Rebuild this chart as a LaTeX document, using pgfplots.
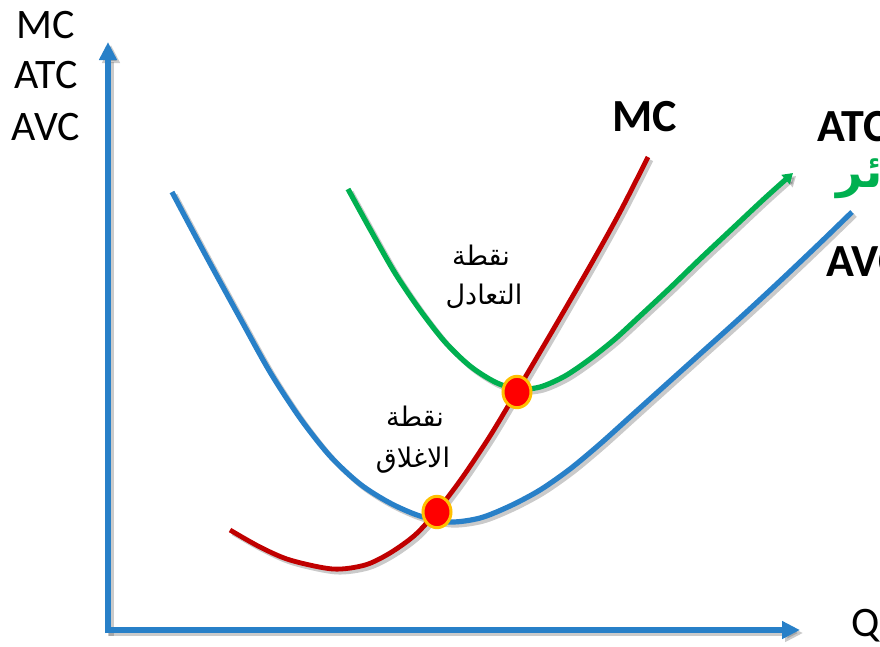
\documentclass[border=0pt]{standalone}
\usepackage{pgfplots}
\pgfplotsset{compat=1.18}
\usepackage{fontspec}
\setmainfont{Carlito}
\newfontfamily\arabicfont[Script=Arabic]{DejaVu Sans}
\TeXXeTstate=1
\usetikzlibrary{arrows.meta}
\definecolor{cblue}{RGB}{40,128,200}
\definecolor{cgreen}{RGB}{0,176,80}
\definecolor{cred}{RGB}{192,0,0}
\definecolor{dotred}{RGB}{255,0,0}
\definecolor{dotorange}{RGB}{255,192,0}
\tikzset{shad/.style={preaction={draw=black!60, opacity=0.35, line width=#1, transform canvas={xshift=1.5bp,yshift=-1.5bp}}}}
\begin{document}
\begin{tikzpicture}
\begin{axis}[
  width=440bp, height=323bp, scale only axis,
  xmin=0, xmax=880, ymin=0, ymax=646, y dir=reverse,
  axis lines=none, clip=false,
]
\coordinate (bl) at (axis cs:0,646);
\coordinate (tr) at (axis cs:880,0);
% axes
\addplot[cblue, line width=3bp, shad=3bp, -{Triangle[length=9bp,width=8.5bp]}] coordinates {(108,633) (108,42)};
\addplot[cblue, line width=3bp, shad=3bp, -{Triangle[length=9bp,width=8.5bp]}] coordinates {(106,630) (800,630)};
% AVC
\addplot[cblue, line width=2.6bp, shad=2.6bp, smooth] coordinates {
(172,192)(205,254)(240,318)(270,372)(300,418)(330,456)(360,484)(390,503)(420,516)(450,522)(480,518)(510,506)(540,490)(570,469)(600,444)(630,417)(660,390)(700,354)(740,318)(780,281)(820,243)(852,212)};
% ATC
\addplot[cgreen, line width=2.6bp, shad=2.6bp, smooth, -{Triangle[length=5bp,width=6bp]}] coordinates {
(348,189)(370,229)(395,273)(420,310)(445,342)(470,366)(495,382)(517,389)(540,387)(565,376)(590,359)(615,339)(640,316)(670,288)(700,259)(733,228)(765,198)(793,173)};
% MC
\addplot[cred, line width=2.4bp, shad=2.4bp, smooth] coordinates {
(230,530)(260,547)(290,560)(333,569)(365,565)(390,553)(415,535)(437,511)(462,478)(490,436)(517,391)(550,335)(590,266)(620,212)(648,157)};
% points
\addplot[only marks, mark=*, mark size=7bp, mark options={fill=dotred, draw=dotorange, line width=1.5bp, yscale=1.12}] coordinates {(437,512) (517,392)};
% labels
\node[inner sep=0, font=\fontsize{21bp}{24bp}\selectfont] at (axis cs:46,25) {MC};
\node[inner sep=0, font=\fontsize{21bp}{24bp}\selectfont] at (axis cs:46,75) {ATC};
\node[inner sep=0, font=\fontsize{21bp}{24bp}\selectfont] at (axis cs:46,127) {AVC};
\node[inner sep=0, font=\fontsize{23bp}{26bp}\selectfont\bfseries] at (axis cs:645,117) {MC};
\node[inner sep=0, anchor=west, font=\fontsize{23bp}{26bp}\selectfont\bfseries] at (axis cs:817,127) {ATC};
\node[inner sep=0, anchor=west, font=\fontsize{23bp}{26bp}\selectfont\bfseries] at (axis cs:826,262) {AVC};
\node[inner sep=0, anchor=west, font=\fontsize{21bp}{24bp}\selectfont] at (axis cs:851,626) {Q};
\node[inner sep=0, anchor=west, text=cgreen, font=\fontsize{23bp}{26bp}\selectfont\bfseries] at (axis cs:836,176) {\arabicfont\beginR خسائر\endR};
\node[inner sep=0, font=\fontsize{13.5bp}{16bp}\selectfont] at (axis cs:481,255) {\arabicfont\beginR نقطة\endR};
\node[inner sep=0, font=\fontsize{13.5bp}{16bp}\selectfont] at (axis cs:484,296) {\arabicfont\beginR التعادل\endR};
\node[inner sep=0, font=\fontsize{13.5bp}{16bp}\selectfont] at (axis cs:415,416) {\arabicfont\beginR نقطة\endR};
\node[inner sep=0, font=\fontsize{13.5bp}{16bp}\selectfont] at (axis cs:413,460) {\arabicfont\beginR الاغلاق\endR};
\end{axis}
\pgfresetboundingbox
\useasboundingbox (bl) rectangle (tr);
\end{tikzpicture}
\end{document}
